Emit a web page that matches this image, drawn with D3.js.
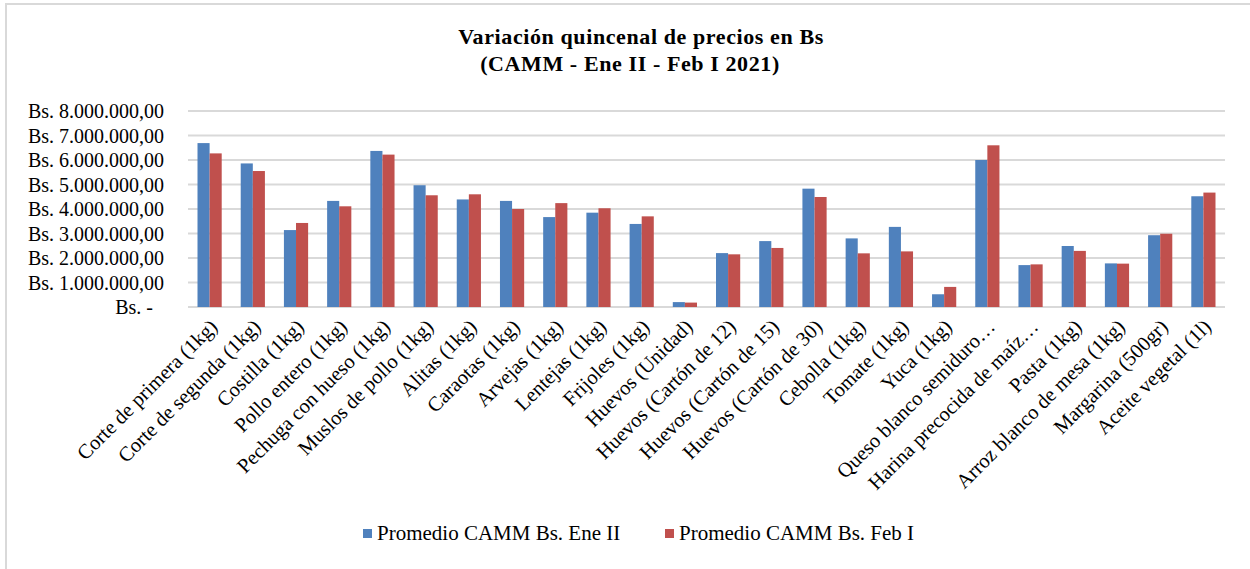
<!DOCTYPE html>
<html>
<head>
<meta charset="utf-8">
<script src="https://cdn.jsdelivr.net/npm/d3@7"></script>
<style>
  body { margin: 0; background: #fff; }
  svg text { font-family: "Liberation Serif", "Times New Roman", serif; fill: #000; }
</style>
</head>
<body>
<svg id="chart" width="1250" height="569"></svg>
<script>
const products = [
  'Corte de primera (1kg)', 'Corte de segunda (1kg)', 'Costilla (1kg)', 'Pollo entero (1kg)',
  'Pechuga con hueso (1kg)', 'Muslos de pollo (1kg)', 'Alitas (1kg)', 'Caraotas (1kg)',
  'Arvejas (1kg)', 'Lentejas (1kg)', 'Frijoles (1kg)', 'Huevos (Unidad)',
  'Huevos (Cartón de 12)', 'Huevos (Cartón de 15)', 'Huevos (Cartón de 30)', 'Cebolla (1kg)',
  'Tomate (1kg)', 'Yuca (1kg)', 'Queso blanco semiduro…', 'Harina precocida de maíz…',
  'Pasta (1kg)', 'Arroz blanco de mesa (1kg)', 'Margarina (500gr)', 'Aceite vegetal (1l)'
]

const eneII = [
  6690000, 5860000, 3140000, 4330000, 6370000, 4970000, 4390000, 4330000,
  3670000, 3850000, 3390000, 200000, 2200000, 2690000, 4830000, 2800000,
  3270000, 520000, 6000000, 1710000, 2490000, 1780000, 2930000, 4520000
]

const febI = [
  6270000, 5550000, 3430000, 4110000, 6220000, 4560000, 4600000, 4000000,
  4240000, 4030000, 3700000, 180000, 2150000, 2410000, 4490000, 2190000,
  2270000, 820000, 6600000, 1740000, 2290000, 1770000, 2990000, 4670000
]

const seriesNames = ['Promedio CAMM Bs. Ene II', 'Promedio CAMM Bs. Feb I']
const seriesColors = ['#4F81BD', '#C0504D']
const yTicks = [0, 1000000, 2000000, 3000000, 4000000, 5000000, 6000000, 7000000, 8000000]

const svg = d3.select('#chart')

// outer chart border (only top and left visible in the picture)
svg.append('rect')
  .attr('x', 6).attr('y', 4)
  .attr('width', 1260).attr('height', 580)
  .attr('fill', 'none')
  .attr('stroke', '#d9d9d9')
  .attr('stroke-width', 2)

// title
const title = svg.append('text')
  .attr('text-anchor', 'middle')
  .attr('font-weight', 'bold')
  .attr('font-size', 22)
  .attr('letter-spacing', 0.6)
title.append('tspan').attr('x', 641).attr('y', 44).text('Variación quincenal de precios en Bs')
title.append('tspan').attr('x', 630).attr('y', 71).text('(CAMM - Ene II - Feb I 2021)')

const table = products.map((p, i) => ({ name: p, values: [eneII[i], febI[i]] }))

const x0 = d3.scaleBand()
  .domain(products)
  .range([188, 1225])
  .paddingInner(0.44)
  .paddingOuter(0.22)

const x1 = d3.scaleBand()
  .domain([0, 1])
  .range([0, x0.bandwidth()])

const y = d3.scaleLinear()
  .domain([0, 8000000])
  .range([307, 111])

const loc = d3.formatLocale({ decimal: ',', thousands: '.', grouping: [3], currency: ['Bs. ', ''] })
const fmt = loc.format('$,.2f')

// gridlines
svg.append('g')
  .selectAll('line')
  .data(yTicks)
  .enter()
  .append('line')
  .attr('x1', 188).attr('x2', 1225)
  .attr('y1', d => y(d)).attr('y2', d => y(d))
  .attr('stroke', '#d9d9d9')
  .attr('stroke-width', 2)

// y axis labels
const yAxis = d3.axisLeft(y)
  .tickValues(yTicks)
  .tickSize(0)
  .tickPadding(24)
  .tickFormat(d => d === 0 ? 'Bs. -' : fmt(d))

const ya = svg.append('g')
  .attr('transform', 'translate(188,0)')
  .call(yAxis)
ya.select('.domain').remove()
ya.selectAll('text')
  .attr('font-size', 20)
  .attr('font-family', '"Liberation Serif", serif')
  .attr('fill', '#000')
  .attr('dy', '0.33em')
  .attr('dx', d => d === 0 ? -11 : 0)

// bars
const groups = svg.append('g')
  .selectAll('g')
  .data(table)
  .enter()
  .append('g')
  .attr('transform', d => `translate(${x0(d.name)},0)`)

groups.selectAll('rect')
  .data(d => d.values)
  .enter()
  .append('rect')
  .attr('x', (d, i) => x1(i))
  .attr('width', x1.bandwidth())
  .attr('y', d => y(d))
  .attr('height', d => y(0) - y(d))
  .attr('fill', (d, i) => seriesColors[i])

// x labels
const xAxis = d3.axisBottom(x0).tickSize(0).tickPadding(0)
const xa = svg.append('g')
  .attr('transform', 'translate(0,307)')
  .call(xAxis)
xa.select('.domain').remove()
xa.selectAll('text')
  .attr('font-size', 20.5)
  .attr('font-family', '"Liberation Serif", serif')
  .attr('fill', '#000')
  .attr('text-anchor', 'end')
  .attr('dy', 0)
  .attr('y', 0)
  .attr('transform', 'translate(9,21) rotate(-45)')

// legend
const legend = svg.append('g')
  .selectAll('g')
  .data(seriesNames)
  .enter()
  .append('g')
  .attr('transform', (d, i) => `translate(${[363, 665][i]},529)`)

legend.append('rect')
  .attr('width', 9).attr('height', 9)
  .attr('fill', (d, i) => seriesColors[i])

legend.append('text')
  .attr('x', 14).attr('y', 11)
  .attr('font-size', 21)
  .text(d => d)
</script>
</body>
</html>
